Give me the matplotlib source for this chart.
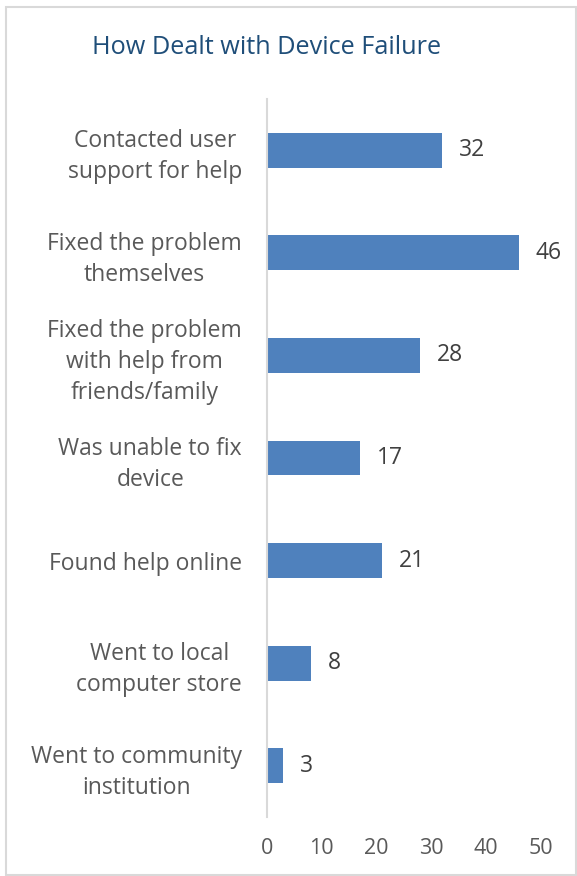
import matplotlib.pyplot as plt
from matplotlib.patches import Rectangle

# Survey responses
categories = [
    'Contacted user\nsupport for help',
    'Fixed the problem\nthemselves',
    'Fixed the problem\nwith help from\nfriends/family',
    'Was unable to fix\ndevice',
    'Found help online',
    'Went to local\ncomputer store',
    'Went to community\ninstitution',
]
counts = [32, 46, 28, 17, 21, 8, 3]
x_ticks = [0, 10, 20, 30, 40, 50]

plt.rcParams['font.family'] = ['Open Sans', 'DejaVu Sans']

W, H = 577, 876
fig = plt.figure(figsize=(W / 100, H / 100), dpi=100)
ax = fig.add_axes([267 / W, 1 - 817 / H, (541 - 267) / W, (817 - 99) / H])

pos = list(range(len(categories)))
ax.barh(pos, counts, height=0.34, color='#4F81BD')
ax.set_ylim(len(categories) - 0.5, -0.5)
ax.set_xlim(0, 50)

ax.set_yticks(pos)
ax.set_yticklabels(categories, fontsize=16.5, color='#595959', ha='right',
                   multialignment='center', linespacing=1.4)
ax.set_xticks(x_ticks)
ax.set_xticklabels([str(t) for t in x_ticks], fontsize=15.5, color='#595959')
ax.tick_params(axis='y', length=0, pad=18)
ax.tick_params(axis='x', length=0, pad=15)

for s in ['top', 'right', 'bottom']:
    ax.spines[s].set_visible(False)
ax.spines['left'].set_color('#D9D9D9')
ax.spines['left'].set_linewidth(1.5)

# value labels next to each bar
for p, v in zip(pos, counts):
    ax.annotate(str(v), (v, p), xytext=(12, 0), textcoords='offset points',
                va='center', ha='left', fontsize=16.5, color='#404040')

fig.text(267 / W, 1 - 48 / H, 'How Dealt with Device Failure', ha='center',
         va='center', fontsize=18.2, color='#1F4E79')

# outer chart border
fig.patches.append(Rectangle((6 / W, 1 / H), (W - 7) / W, (H - 8) / H,
                             transform=fig.transFigure, fill=False,
                             edgecolor='#D9D9D9', linewidth=1.5))

fig.savefig('out.png', dpi=100)
